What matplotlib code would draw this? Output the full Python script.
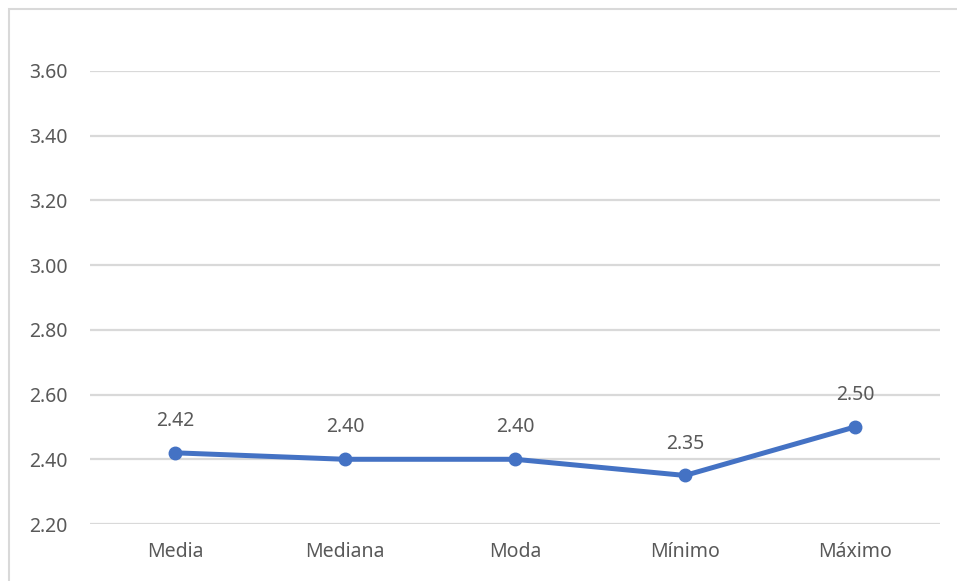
import matplotlib.pyplot as plt
from matplotlib.patches import Rectangle

categories = ["Media", "Mediana", "Moda", "Mínimo", "Máximo"]
values = [2.42, 2.40, 2.40, 2.35, 2.50]
yticks = [2.20, 2.40, 2.60, 2.80, 3.00, 3.20, 3.40, 3.60]

plt.rcParams["font.family"] = ["Noto Sans", "DejaVu Sans"]
text_color = "#595959"
line_color = "#4472C4"

fig = plt.figure(figsize=(9.57, 5.81), dpi=100)
ax = fig.add_axes([90 / 957, 1 - 524 / 581, 850 / 957, (524 - 71) / 581])

# chart area border (cropped at right and bottom)
fig.patches.append(Rectangle((8.5 / 957, -0.1), 1.2, 1 - 8.5 / 581 + 0.1,
                             transform=fig.transFigure, fill=False,
                             edgecolor="#d9d9d9", linewidth=1.5, zorder=0))

x = list(range(len(categories)))
ax.plot(x, values, color=line_color, linewidth=3.6, marker="o",
        markersize=9, solid_capstyle="round", zorder=3, clip_on=False)
for xi, v in zip(x, values):
    ax.annotate(f"{v:.2f}", (xi, v), xytext=(0, 23), textcoords="offset points",
                ha="center", va="center", fontsize=14, color=text_color)

ax.set_xlim(-0.5, len(categories) - 0.5)
ax.set_ylim(2.2, 3.6)
ax.set_yticks(yticks)
ax.set_yticklabels([f"{t:.2f}" for t in yticks])
ax.set_xticks(x)
ax.set_xticklabels(categories)
ax.tick_params(axis="both", length=0, labelsize=14, labelcolor=text_color)
ax.tick_params(axis="y", pad=16)
ax.tick_params(axis="x", pad=13)
ax.grid(axis="y", color="#d9d9d9", linewidth=1.6)
ax.set_axisbelow(True)
for s in ax.spines.values():
    s.set_visible(False)

fig.savefig("out.png", dpi=100)
